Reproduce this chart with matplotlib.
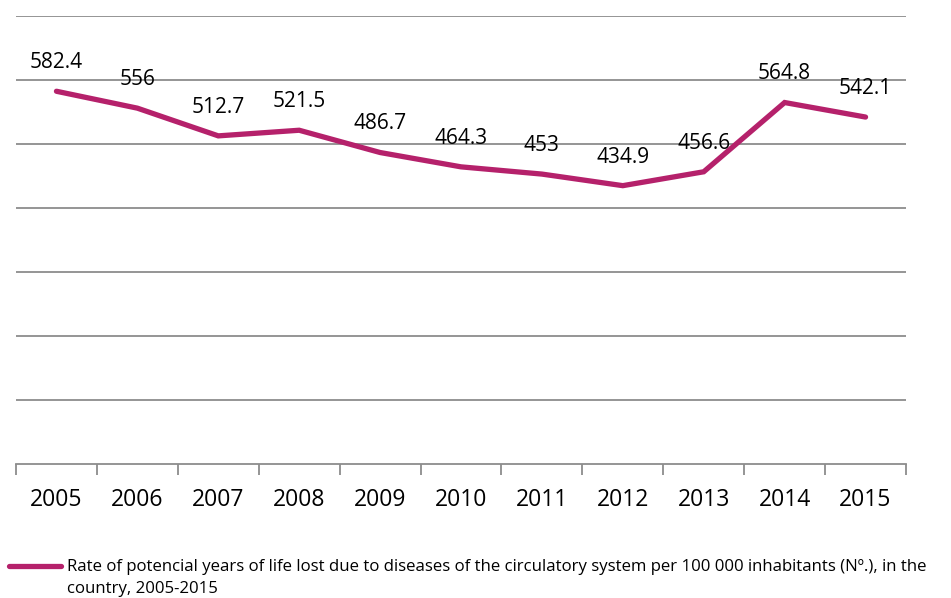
import numpy as np
import matplotlib.pyplot as plt
from matplotlib.lines import Line2D

years = ['2005', '2006', '2007', '2008', '2009', '2010', '2011', '2012', '2013', '2014', '2015']
rate = [582.4, 556, 512.7, 521.5, 486.7, 464.3, 453, 434.9, 456.6, 564.8, 542.1]
labels = ['582.4', '556', '512.7', '521.5', '486.7', '464.3', '453', '434.9', '456.6', '564.8', '542.1']
legend_text = ('Rate of potencial years of life lost due to diseases of the circulatory system per 100 000 inhabitants (Nº.), in the\n'
               'country, 2005-2015')

plt.rcParams['font.family'] = ['Open Sans', 'DejaVu Sans']
color = '#B5216B'
grid_c = '#8C8C8C'

fig = plt.figure(figsize=(9.51, 5.98), dpi=100)
ax = fig.add_axes([16 / 951, 1 - 464 / 598, 890 / 951, 448 / 598])

x = np.arange(len(years))
ax.plot(x, rate, color=color, linewidth=3.8, solid_capstyle='round', solid_joinstyle='miter', zorder=3)
for xi, v, lab in zip(x, rate, labels):
    ax.annotate(lab, (xi, v), xytext=(0, 13), textcoords='offset points',
                ha='center', va='bottom', fontsize=15, color='black')

ax.set_xlim(-0.5, len(years) - 0.5)
ax.set_ylim(0, 700)
ax.set_yticks(np.arange(100, 701, 100))
ax.yaxis.grid(True, color=grid_c, linewidth=1.3)
ax.tick_params(axis='y', left=False, labelleft=False)
ax.set_xticks(x)
ax.set_xticklabels(years, fontsize=16.5)
ax.set_xticks(np.arange(-0.5, len(years)), minor=True)
ax.tick_params(axis='x', which='major', length=0, pad=17)
ax.tick_params(axis='x', which='minor', length=8, width=1.3, color=grid_c, direction='out')
for s in ['top', 'right', 'left']:
    ax.spines[s].set_visible(False)
ax.spines['bottom'].set_color(grid_c)
ax.spines['bottom'].set_linewidth(1.3)
ax.set_axisbelow(True)

fig.add_artist(Line2D([9 / 951, 61 / 951], [1 - 566 / 598, 1 - 566 / 598],
                      color=color, linewidth=3.8, solid_capstyle='round'))
fig.text(67 / 951, 1 - 559 / 598, legend_text, fontsize=12.1, va='top', ha='left',
         linespacing=1.5)

fig.savefig('out.png', dpi=100)
